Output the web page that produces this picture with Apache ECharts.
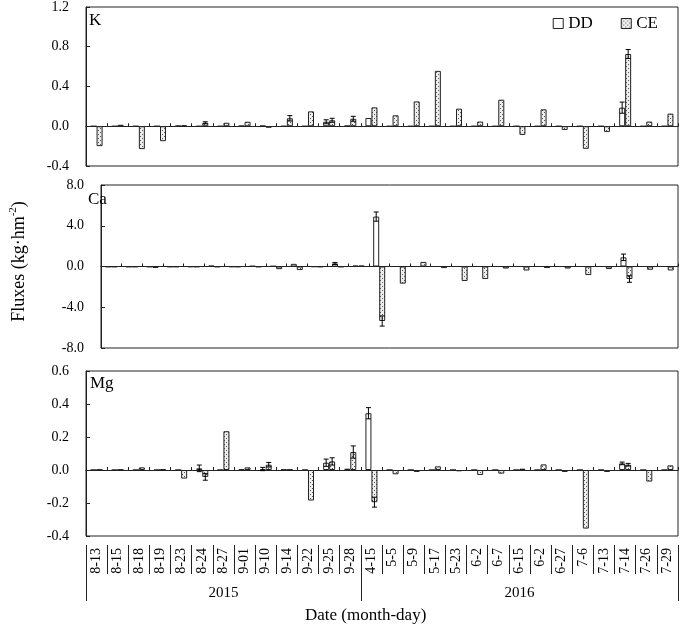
<!DOCTYPE html>
<html><head><meta charset="utf-8">
<script src="https://cdn.jsdelivr.net/npm/echarts@6/dist/echarts.min.js"></script>
<style>html,body{margin:0;padding:0;background:#fff}#c{width:685px;height:628px}</style>
</head><body><div id="c"></div>
<script>
const categories = ['8-13','8-15','8-18','8-19','8-23','8-24','8-27','9-01','9-10','9-14','9-22','9-25','9-28','4-15','5-5','5-9','5-17','5-23','6-2','6-7','6-15','6-2','6-27','7-6','7-13','7-14','7-26','7-29'];
const yearLabels = ['2015','2016'];
const yearCenterIndex = [6, 20];
const yearStartIndex = [0, 13];

const K_DD = [0,0,0,0,0.005,0,0,0.005,0.005,0,0,0.045,0.005,0.083,0,0,0,0,0,0,0,0,0,0,0,0.187,0,0];
const K_CE = [-0.20,0.015,-0.23,-0.15,0.01,0.035,0.035,0.045,-0.015,0.08,0.15,0.06,0.075,0.19,0.11,0.25,0.557,0.177,0.047,0.267,-0.087,0.17,-0.037,-0.227,-0.057,0.727,0.047,0.127];
const K_DD_err = [0,0,0,0,0,0,0,0,0,0,0,0.02,0,0,0,0,0,0,0,0,0,0,0,0,0,0.056,0,0];
const K_CE_err = [0,0,0,0,0,0.01,0,0,0,0.027,0,0.02,0.025,0,0,0,0,0,0,0,0,0,0,0,0,0.045,0,0];

const Ca_DD = [-0.05,-0.05,-0.05,-0.05,-0.04,0.08,-0.04,0.05,0.04,0.26,-0.03,0.3,0.08,4.9,0,0,0,0,0,0,0,0,0,0,0,0.9,0,0];
const Ca_CE = [-0.05,-0.05,-0.15,-0.05,-0.05,-0.05,-0.05,-0.05,-0.26,-0.35,-0.05,-0.05,0.08,-5.35,-1.68,0.45,-0.16,-1.42,-1.23,-0.2,-0.39,-0.15,-0.2,-0.84,-0.25,-1.23,-0.32,-0.39];
const Ca_DD_err = [0,0,0,0,0,0,0,0,0,0,0,0.1,0,0.45,0,0,0,0,0,0,0,0,0,0,0,0.32,0,0];
const Ca_CE_err = [0,0,0,0,0,0,0,0,0,0,0,0,0,0.5,0,0,0,0,0,0,0,0,0,0,0,0.32,0,0];

const Mg_DD = [0,0,0,0,0,0.01,0,0.004,0.006,0.003,0,0.044,0.008,0.344,0,0,0,0,0,0,0,0,0,0,0,0.04,0,0];
const Mg_CE = [0.003,0.003,0.016,0.004,-0.052,-0.042,0.235,0.016,0.032,0.003,-0.185,0.052,0.109,-0.195,-0.026,-0.012,0.022,-0.008,-0.03,-0.022,0.008,0.034,-0.012,-0.355,-0.012,0.032,-0.07,0.028];
const Mg_DD_err = [0,0,0,0,0,0.02,0,0,0.01,0,0,0.022,0,0.034,0,0,0,0,0,0,0,0,0,0,0,0.008,0,0];
const Mg_CE_err = [0,0,0,0,0,0.02,0,0,0.014,0,0,0.022,0.037,0.03,0,0,0,0,0,0,0,0,0,0,0,0.008,0,0];

const panelNames = ['K','Ca','Mg'];
const yMin = [-0.4,-8,-0.4], yMax = [1.2,8,0.6], yInt = [0.4,4,0.2];

// dotted fill pattern
const pc = document.createElement('canvas');
pc.width = 4; pc.height = 4;
const px = pc.getContext('2d');
px.fillStyle = '#eeeeee'; px.fillRect(0,0,4,4);
px.fillStyle = '#555555'; px.fillRect(0,0,1,1); px.fillRect(2,2,1,1);
const cePattern = {image: pc, repeat: 'repeat'};

const FONT = 'Liberation Serif';
const LINE = '#222';
const BW = 6;

const grids = [
  {left: 86, right: 7, top: 7, height: 159},
  {left: 86, right: 7, top: 185, height: 163},
  {left: 86, right: 7, top: 371, height: 165}
].map(g => Object.assign(g, {show: true, borderColor: LINE, borderWidth: 1, backgroundColor: 'transparent'}));

const xAxes = [0,1,2].map(i => ({
  type: 'category', gridIndex: i, data: categories, boundaryGap: true,
  axisLine: {onZero: true, lineStyle: {color: LINE, width: 1}},
  axisTick: {show: true, inside: true, length: 3, interval: 0, lineStyle: {color: LINE}},
  axisLabel: {show: false}, splitLine: {show: false}
}));
xAxes.push({
  type: 'category', gridIndex: 2, data: categories, position: 'bottom', offset: 9,
  axisLine: {show: false, onZero: false},
  axisTick: {show: true, length: 29, interval: 0, lineStyle: {color: LINE}},
  axisLabel: {interval: 0, rotate: 90, margin: 3, fontSize: 14, fontFamily: FONT, color: '#000'}
});
const yearAxisData = categories.map((c, i) => {
  const k = yearCenterIndex.indexOf(i); return k >= 0 ? yearLabels[k] : '';
});
xAxes.push({
  type: 'category', gridIndex: 2, data: yearAxisData, position: 'bottom', offset: 9,
  axisLine: {show: false, onZero: false},
  axisTick: {show: true, length: 56, interval: (i) => yearStartIndex.indexOf(i) >= 0, lineStyle: {color: LINE}},
  axisLabel: {interval: 0, margin: 41, fontSize: 15, fontFamily: FONT, color: '#000'}
});

const yAxes = [0,1,2].map(i => ({
  type: 'value', gridIndex: i, min: yMin[i], max: yMax[i], interval: yInt[i],
  axisLine: {show: true, lineStyle: {color: LINE}},
  axisTick: {show: true, inside: true, length: 4, lineStyle: {color: LINE}},
  axisLabel: {margin: 17, fontSize: 14, fontFamily: FONT, color: '#000', formatter: v => v.toFixed(1)},
  splitLine: {show: false}
}));
yAxes[1].name = '{a|Fluxes (kg·hm}{b|-2}{a|)}';
yAxes[1].nameLocation = 'middle';
yAxes[1].nameGap = 71;
yAxes[1].nameTextStyle = {padding: [0, 0, 0, 10], rich: {
  a: {fontSize: 18, fontFamily: FONT, color: '#000', lineHeight: 22},
  b: {fontSize: 11, fontFamily: FONT, color: '#000', verticalAlign: 'top', lineHeight: 14}
}};

const sets = [[K_DD,K_CE,K_DD_err,K_CE_err],[Ca_DD,Ca_CE,Ca_DD_err,Ca_CE_err],[Mg_DD,Mg_CE,Mg_DD_err,Mg_CE_err]];
const series = [];
function errSeries(gi, vals, errs, off) {
  const data = [];
  vals.forEach((v, i) => { if (errs[i] > 0) data.push([i, v, errs[i]]); });
  return {
    type: 'custom', xAxisIndex: gi, yAxisIndex: gi, z: 5, silent: true, data: data,
    renderItem: function (params, api) {
      const i = api.value(0), v = api.value(1), e = api.value(2);
      const t = api.coord([i, v + e]), b = api.coord([i, v - e]);
      const x = t[0] + off, hw = 2.5;
      const st = {stroke: '#000', lineWidth: 1, fill: null};
      return {type: 'group', children: [
        {type: 'line', shape: {x1: x, y1: t[1], x2: x, y2: b[1]}, style: st},
        {type: 'line', shape: {x1: x - hw, y1: t[1], x2: x + hw, y2: t[1]}, style: st},
        {type: 'line', shape: {x1: x - hw, y1: b[1], x2: x + hw, y2: b[1]}, style: st}
      ]};
    }
  };
}
sets.forEach((s, gi) => {
  series.push({name: 'DD', type: 'bar', xAxisIndex: gi, yAxisIndex: gi, data: s[0], barWidth: BW, barGap: '0%',
    itemStyle: {color: '#ffffff', borderColor: LINE, borderWidth: 1}, silent: true});
  series.push({name: 'CE', type: 'bar', xAxisIndex: gi, yAxisIndex: gi, data: s[1], barWidth: BW, barGap: '0%',
    itemStyle: {color: cePattern, borderColor: LINE, borderWidth: 1}, silent: true});
  series.push(errSeries(gi, s[0], s[2], -BW/2));
  series.push(errSeries(gi, s[1], s[3], BW/2));
});

const titles = [
  {text: panelNames[0], left: 89, top: 12},
  {text: panelNames[1], left: 88, top: 191},
  {text: panelNames[2], left: 90, top: 375},
  {text: 'Date (month-day)', left: 305, top: 607}
].map(t => Object.assign(t, {padding: 0, textStyle: {fontSize: 17, fontWeight: 'normal', fontFamily: FONT, color: '#000'}}));

const chart = echarts.init(document.getElementById('c'), null, {renderer: 'canvas'});
chart.setOption({
  animation: false,
  backgroundColor: '#fff',
  title: titles,
  legend: {
    right: 22, top: 10, itemWidth: 10, itemHeight: 10, itemGap: 28, selectedMode: false,
    textStyle: {fontSize: 17, fontFamily: FONT, color: '#000'},
    data: [
      {name: 'DD', icon: 'rect', itemStyle: {color: '#fff', borderColor: LINE, borderWidth: 1}},
      {name: 'CE', icon: 'rect', itemStyle: {color: cePattern, borderColor: LINE, borderWidth: 1}}
    ]
  },
  grid: grids,
  xAxis: xAxes,
  yAxis: yAxes,
  series: series
});
</script></body></html>
